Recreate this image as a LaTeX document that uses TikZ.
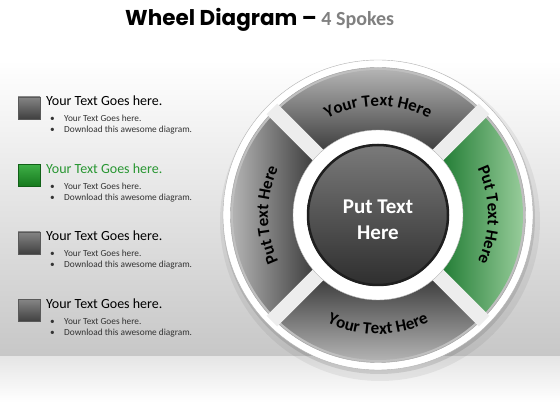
\documentclass[tikz,border=0pt]{standalone}
\usepackage{fontspec}
\setmainfont{Carlito}
\newfontfamily\titlefont{Poppins}
\usetikzlibrary{positioning,decorations.text}

\definecolor{spokegreen}{RGB}{24,118,44}
\definecolor{lightgreen}{RGB}{172,218,172}
\definecolor{headgreen}{RGB}{40,150,50}
\definecolor{boxgreen}{RGB}{28,160,38}

\newcommand{\spokefont}{\bfseries\fontsize{17}{19}\selectfont}

\begin{document}
\begin{tikzpicture}
    [ x = 1pt, y = 1pt
    , box/.style =
      { draw=black!65, minimum width=22pt, minimum height=22pt, inner sep=0pt
      , top color=black!48, bottom color=black!75 }
    , greenbox/.style =
      { box, draw=boxgreen!60!black, top color=boxgreen!85, bottom color=boxgreen!75!black }
    , heading/.style =
      { font=\fontsize{14}{16}\selectfont, anchor=base west, inner sep=0pt }
    , point/.style =
      { font=\fontsize{9.3}{11}\selectfont, anchor=base west, inner sep=0pt, text=black!80 }
    , gapbar/.style =
      { line width=15pt, black!7 }
    , spokelabel/.style =
      { decorate, decoration={text along path, text align=center, text={|\spokefont|#1}} }
    , hub/.style =
      { text=white, align=center, font=\bfseries\fontsize{21}{26}\selectfont }
    ]
    \useasboundingbox (0,0) rectangle (560,420);

    % background
    \fill[white] (0,0) rectangle (560,420);
    \shade[top color=white, bottom color=black!22] (0,63) rectangle (560,360);
    \shade[top color=black!10, bottom color=white] (0,18) rectangle (560,63);

    % title
    \node[anchor=base west, inner sep=0pt] (title) at (125,394)
      {\titlefont\bfseries\fontsize{21.5}{24}\selectfont Wheel Diagram –
       {\rmfamily\fontsize{20}{24}\selectfont\color{black!50}4 Spokes}};

    % list on the left
    \foreach \i/\sty/\col in {0/box/black, 1/greenbox/headgreen, 2/box/black, 3/box/black}
    {
      \pgfmathsetmacro{\ybase}{314-67.5*\i}
      \node[\sty] (sq\i) at (29,\ybase-2) {};
      \node[heading, text=\col] (head\i) at (46,\ybase) {Your Text Goes here.};
      \node[point] (pa\i) at (50,\ybase-16) {\makebox[14pt][l]{\textbullet}Your Text Goes here.};
      \node[point] (pb\i) at (50,\ybase-27) {\makebox[14pt][l]{\textbullet}Download this awesome diagram.};
    }

    % wheel
    \begin{scope}[shift={(378,205)}]
      \fill[black, opacity=.06] (2,-6) circle (160);
      \fill[black, opacity=.10] (1,-3) circle (156);
      \filldraw[fill=white, draw=black!30] (0,0) circle (155);
      \filldraw[fill=black!25, draw=black!38] (0,0) circle (147.5);

      % spokes
      \shade[top color=black!22, bottom color=black!80]
        (45:145) arc[start angle=45, end angle=135, radius=145]
        -- (135:80) arc[start angle=135, end angle=45, radius=80] -- cycle;
      \shade[left color=black!22, right color=black!80]
        (135:145) arc[start angle=135, end angle=225, radius=145]
        -- (225:80) arc[start angle=225, end angle=135, radius=80] -- cycle;
      \shade[top color=black!80, bottom color=black!22]
        (225:145) arc[start angle=225, end angle=315, radius=145]
        -- (315:80) arc[start angle=315, end angle=225, radius=80] -- cycle;
      \shade[left color=spokegreen, right color=lightgreen]
        (-45:145) arc[start angle=-45, end angle=45, radius=145]
        -- (45:80) arc[start angle=45, end angle=-45, radius=80] -- cycle;

      \foreach \a in {45,135,225,315}
        \draw[gapbar] (\a:80) -- (\a:150);

      % hub
      \filldraw[fill=white, draw=black!30] (0,0) circle (85);
      \shade[top color=black!52, bottom color=black!82] (0,0) circle (71);
      \draw[black!88, line width=2.5pt] (0,0) circle (70);
      \node[hub] (centre) at (0,-5) {Put Text\\Here};

      % spoke labels
      \path[spokelabel={Your Text Here}] (127:109) arc[start angle=127, end angle=53, radius=109];
      \path[spokelabel={Your Text Here}] (233:119) arc[start angle=233, end angle=307, radius=119];
      \path[spokelabel={Put Text Here}] (215:110) arc[start angle=215, end angle=145, radius=110];
      \path[spokelabel={Put Text Here}] (35:110) arc[start angle=35, end angle=-35, radius=110];
    \end{scope}
\end{tikzpicture}
\end{document}
